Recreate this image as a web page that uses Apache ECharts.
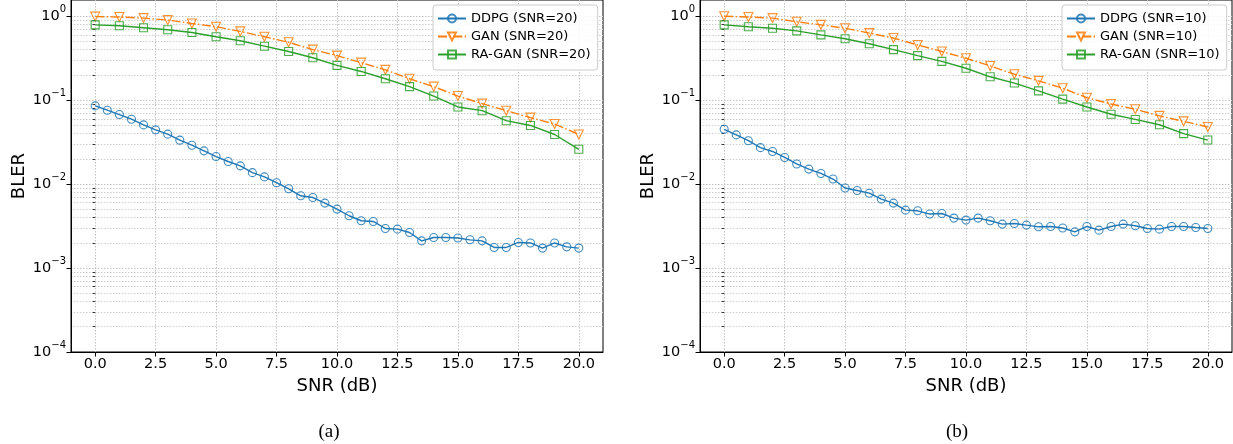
<!DOCTYPE html>
<html>
<head>
<meta charset="utf-8">
<script src="https://cdn.jsdelivr.net/npm/echarts@6/dist/echarts.min.js"></script>
<style>
html,body{margin:0;padding:0;background:#fff;}
#c{width:1233px;height:444px;}
</style>
</head>
<body>
<div id="c"></div>
<script>
// ---- data ----
const snrHalf = [0,0.5,1,1.5,2,2.5,3,3.5,4,4.5,5,5.5,6,6.5,7,7.5,8,8.5,9,9.5,10,10.5,11,11.5,12,12.5,13,13.5,14,14.5,15,15.5,16,16.5,17,17.5,18,18.5,19,19.5,20];
const snrInt = [0,1,2,3,4,5,6,7,8,9,10,11,12,13,14,15,16,17,18,19,20];
const xTickValues = [0,2.5,5,7.5,10,12.5,15,17.5,20];
const yMajorTicks = [0.0001,0.001,0.01,0.1,1];
const yMinorTicks = [0.0002,0.0003,0.0004,0.0005,0.0006,0.0007,0.0008,0.0009,
  0.002,0.003,0.004,0.005,0.006,0.007,0.008,0.009,
  0.02,0.03,0.04,0.05,0.06,0.07,0.08,0.09,
  0.2,0.3,0.4,0.5,0.6,0.7,0.8,0.9];

const namesA = ['DDPG (SNR=20)','GAN (SNR=20)','RA-GAN (SNR=20)'];
const namesB = ['DDPG (SNR=10)','GAN (SNR=10)','RA-GAN (SNR=10)'];

const ddpgA = [0.0855,0.076,0.0674,0.0594,0.0508,0.0443,0.0394,0.0334,0.0291,0.0249,0.0213,0.0186,0.0165,0.0137,0.0122,0.0104,0.0088,0.00726,0.00692,0.00594,0.00504,0.0042,0.00366,0.00359,0.00296,0.00291,0.00265,0.00211,0.00231,0.00231,0.00228,0.00217,0.00211,0.00176,0.00176,0.00202,0.00199,0.00173,0.00199,0.00179,0.00173];
const ganA = [0.99,0.98,0.95,0.90,0.82,0.75,0.66,0.57,0.49,0.40,0.34,0.28,0.23,0.18,0.145,0.112,0.091,0.075,0.062,0.052,0.039];
const raganA = [0.79,0.77,0.73,0.69,0.64,0.57,0.51,0.44,0.38,0.32,0.26,0.22,0.18,0.145,0.112,0.083,0.075,0.057,0.050,0.039,0.026];

const ddpgB = [0.045,0.0386,0.0329,0.0272,0.0245,0.0208,0.0174,0.0151,0.0134,0.0115,0.0090,0.0084,0.0078,0.00663,0.00594,0.0049,0.00481,0.0044,0.00447,0.00394,0.00373,0.00394,0.00366,0.00334,0.0034,0.00325,0.0031,0.00313,0.003,0.0027,0.00313,0.00283,0.00313,0.00334,0.00319,0.00296,0.00291,0.00313,0.00313,0.00304,0.00296];
const ganB = [1.0,0.98,0.95,0.86,0.79,0.72,0.63,0.55,0.455,0.38,0.316,0.256,0.204,0.17,0.139,0.107,0.09,0.078,0.065,0.056,0.048];
const raganB = [0.79,0.75,0.72,0.67,0.60,0.54,0.47,0.40,0.34,0.29,0.24,0.19,0.16,0.129,0.103,0.083,0.068,0.059,0.051,0.040,0.0335];

// ---- styling ----
const FONT = 'DejaVu Sans';
const C_BLUE = '#1f77b4', C_ORANGE = '#ff7f0e', C_GREEN = '#2ca02c';
const Y_MIN = 0.0001, Y_MAX = 1.562;
const gridLine = {show:true, lineStyle:{color:'#c4c4c4', type:[1.5,1.5], width:1}};

const grids = [
  {left:71, top:-1, width:532, height:353},
  {left:700, top:-1, width:532, height:353}
];

function xAxisFor(gi){
  return {
    type:'value', gridIndex:gi, min:-1, max:21,
    axisLine:{show:true, onZero:false, lineStyle:{color:'#000', width:1}},
    axisTick:{show:true, length:4.5, customValues:xTickValues, lineStyle:{color:'#000', width:1}},
    axisLabel:{customValues:xTickValues, formatter:v=>Number(v).toFixed(1), fontFamily:FONT, fontSize:14.5, color:'#000', margin:5},
    splitLine:gridLine,
    name:'SNR (dB)', nameLocation:'middle', nameGap:18,
    nameTextStyle:{fontFamily:FONT, fontSize:18, color:'#000'}
  };
}
function yMajorFor(gi){
  return {
    type:'log', logBase:10, gridIndex:gi, min:Y_MIN, max:Y_MAX, position:'left',
    axisLine:{show:true, onZero:false, lineStyle:{color:'#000', width:1}},
    axisTick:{show:true, length:4.5, customValues:yMajorTicks, lineStyle:{color:'#000', width:1}},
    axisLabel:{
      customValues:yMajorTicks, margin:5,
      formatter:v=>{ const e=Math.round(Math.log10(v)); return '{b|10}{s|'+(e<0?'\u2212'+(-e):e)+'}'; },
      rich:{
        b:{fontFamily:FONT, fontSize:14.5, color:'#000', lineHeight:24},
        s:{fontFamily:FONT, fontSize:10, color:'#000', lineHeight:12, verticalAlign:'top'}
      }
    },
    splitLine:gridLine,
    name:'BLER', nameLocation:'middle', nameGap:43,
    nameTextStyle:{fontFamily:FONT, fontSize:18, color:'#000'}
  };
}
function yMinorFor(gi){
  return {
    type:'log', logBase:10, gridIndex:gi, min:Y_MIN, max:Y_MAX, position:'left',
    axisLine:{show:false},
    axisTick:{show:true, length:2.5, customValues:yMinorTicks, lineStyle:{color:'#000', width:0.8}},
    axisLabel:{show:false},
    splitLine:{show:true, lineStyle:{color:'#cfcfcf', type:[1.5,1.5], width:1}}
  };
}

function mk(name, xs, ys, color, symbol, size, rot, lineType, gi){
  return {
    type:'line', name:name, xAxisIndex:gi, yAxisIndex:gi*2,
    data: xs.map((x,i)=>[x, ys[i]]),
    symbol:symbol, symbolSize:size, symbolRotate:rot, showAllSymbol:true,
    lineStyle:{color:color, width:1.4, type:lineType},
    itemStyle:{color:'rgba(255,255,255,0)', borderColor:color, borderWidth:1.1, opacity:0.85},
    emphasis:{disabled:true}, animation:false, z:3
  };
}
const dashDot = [9,2.4,1.5,2.4];

const legendCommon = {
  orient:'vertical', top:5, itemWidth:28, itemHeight:10, itemGap:5,
  padding:[7,7,9,4], backgroundColor:'rgba(255,255,255,0.85)',
  borderColor:'#cccccc', borderWidth:1, borderRadius:3,
  textStyle:{fontFamily:FONT, fontSize:13, color:'#000'},
  selectedMode:false
};

const option = {
  backgroundColor:'#fff',
  animation:false,
  grid: grids.map(g=>Object.assign({show:true, borderColor:'#000', borderWidth:1, backgroundColor:'transparent'}, g)),
  xAxis:[xAxisFor(0), xAxisFor(1)],
  yAxis:[yMajorFor(0), yMinorFor(0), yMajorFor(1), yMinorFor(1)],
  legend:[
    Object.assign({left:433, data:namesA}, legendCommon),
    Object.assign({left:1062, data:namesB}, legendCommon)
  ],
  series:[
    mk(namesA[0], snrHalf, ddpgA, C_BLUE, 'circle', 8, 0, 'solid', 0),
    mk(namesA[1], snrInt, ganA, C_ORANGE, 'triangle', 9, 180, dashDot, 0),
    mk(namesA[2], snrInt, raganA, C_GREEN, 'rect', 8, 0, 'solid', 0),
    mk(namesB[0], snrHalf, ddpgB, C_BLUE, 'circle', 8, 0, 'solid', 1),
    mk(namesB[1], snrInt, ganB, C_ORANGE, 'triangle', 9, 180, dashDot, 1),
    mk(namesB[2], snrInt, raganB, C_GREEN, 'rect', 8, 0, 'solid', 1)
  ],
  graphic:[
    {type:'text', x:329, y:432, style:{text:'(a)', font:'19px "Liberation Serif"', fill:'#000', align:'center', verticalAlign:'middle'}},
    {type:'text', x:957, y:432, style:{text:'(b)', font:'19px "Liberation Serif"', fill:'#000', align:'center', verticalAlign:'middle'}}
  ]
};

const chart = echarts.init(document.getElementById('c'), null, {renderer:'canvas'});
chart.setOption(option);
</script>
</body>
</html>
